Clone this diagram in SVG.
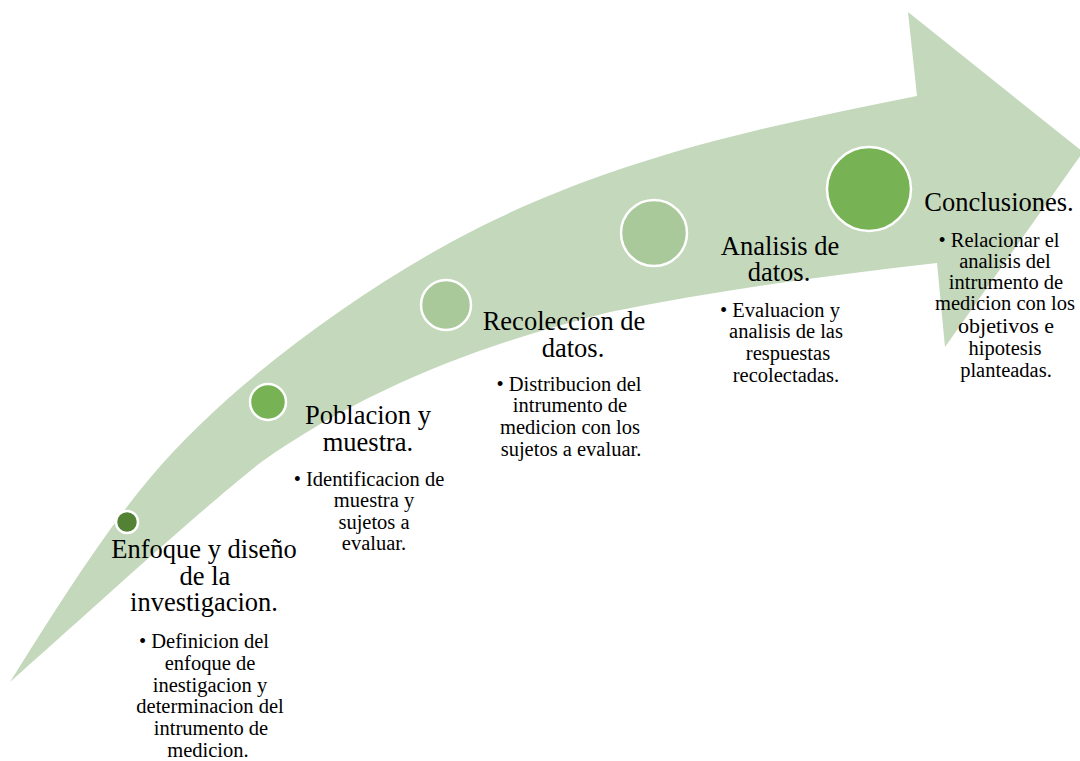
<svg xmlns="http://www.w3.org/2000/svg" width="1080" height="761" viewBox="0 0 1080 761">
<style>
text{font-family:'Liberation Serif','DejaVu Serif',serif;fill:#000;text-anchor:middle}
.t{font-size:26.5px}
.b{font-size:20.5px}
.c{stroke:#fff;stroke-width:2.5}
</style>
<rect width="1080" height="761" fill="#fff"/>
<g id="arrow">
<path d="M10,682 C57,607 103,534 150,478 C230,382 370,282 480,227 C625,155 772,125 917,96 L908,12 L1083,152 L945,347 L937,263 C830,275 720,290 610,312 C490,342 370,385 260,463 C200,510 80,620 10,682 Z" fill="#c4d8bc"/>
</g>
<g id="node1">
<circle class="c" cx="127" cy="522" r="11" fill="#548235"/>
<text class="t" x="204" y="558">Enfoque y diseño</text>
<text class="t" x="205" y="585">de la</text>
<text class="t" x="204" y="611">investigacion.</text>
<text class="b" x="204" y="648">• Definicion del</text>
<text class="b" x="210" y="670">enfoque de</text>
<text class="b" x="210" y="692">inestigacion y</text>
<text class="b" x="210" y="713">determinacion del</text>
<text class="b" x="211" y="735">intrumento de</text>
<text class="b" x="208" y="757">medicion.</text>
</g>
<g id="node2">
<circle class="c" cx="268" cy="402" r="18" fill="#77b255"/>
<text class="t" x="368" y="424">Poblacion y</text>
<text class="t" x="368" y="451">muestra.</text>
<text class="b" x="369" y="486">• Identificacion de</text>
<text class="b" x="374" y="507">muestra y</text>
<text class="b" x="374" y="529">sujetos a</text>
<text class="b" x="374" y="550">evaluar.</text>
</g>
<g id="node3">
<circle class="c" cx="446" cy="305" r="25" fill="#a9c99a"/>
<text class="t" x="564" y="330">Recoleccion de</text>
<text class="t" x="573" y="357">datos.</text>
<text class="b" x="569" y="391">• Distribucion del</text>
<text class="b" x="570" y="412">intrumento de</text>
<text class="b" x="570" y="434">medicion con los</text>
<text class="b" x="571" y="456">sujetos a evaluar.</text>
</g>
<g id="node4">
<circle class="c" cx="654" cy="233" r="33" fill="#a9c99a"/>
<text class="t" x="780" y="255">Analisis de</text>
<text class="t" x="779" y="281">datos.</text>
<text class="b" x="780" y="317">• Evaluacion y</text>
<text class="b" x="786" y="338">analisis de las</text>
<text class="b" x="788" y="360">respuestas</text>
<text class="b" x="786" y="382">recolectadas.</text>
</g>
<g id="node5">
<circle class="c" cx="869" cy="189" r="42" fill="#77b255"/>
<text class="t" x="999" y="211">Conclusiones.</text>
<text class="b" x="999" y="247">• Relacionar el</text>
<text class="b" x="1005" y="268">analisis del</text>
<text class="b" x="1006" y="289">intrumento de</text>
<text class="b" x="1005" y="310">medicion con los</text>
<text class="b" x="1006" y="333" style="font-size:22px">objetivos e</text>
<text class="b" x="1005" y="355">hipotesis</text>
<text class="b" x="1006" y="377">planteadas.</text>
</g>
</svg>
